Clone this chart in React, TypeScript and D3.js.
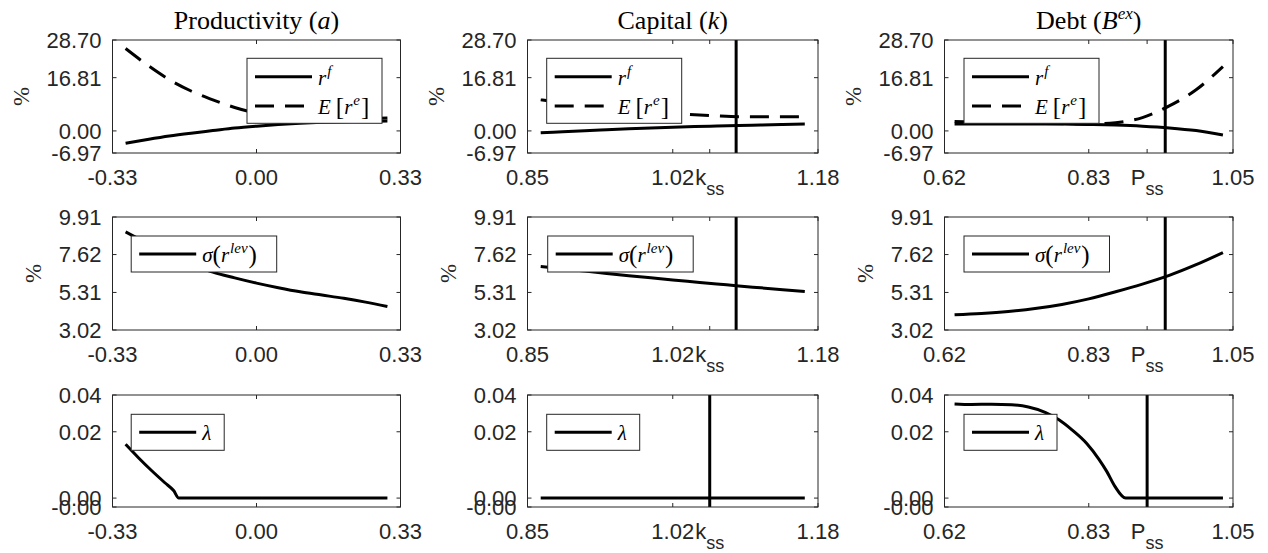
import React from "react";
import * as d3 from "d3";

const W = 1268;
const H = 553;
const SANS = "'Liberation Sans', Arial, Helvetica, sans-serif";
const SERIF = "'Liberation Serif', 'Times New Roman', serif";
const AX = "#262626";

// ---------------- data ----------------
// Productivity (a)
const xProd = [-0.30, -0.25, -0.20, -0.15, -0.10, -0.05, 0.00, 0.05, 0.10, 0.15, 0.20, 0.25, 0.30];
const rfProd = [-3.9, -2.7, -1.6, -0.7, 0.1, 0.9, 1.5, 2.0, 2.4, 2.7, 2.9, 3.0, 3.1];
const erProd = [26.0, 20.8, 16.2, 12.6, 9.8, 7.4, 5.6, 4.6, 4.1, 3.9, 3.8, 3.9, 4.1];
const sigProd = [9.0, 8.3, 7.6, 7.05, 6.55, 6.2, 5.88, 5.6, 5.35, 5.15, 4.95, 4.72, 4.45];
const xLamProd = [-0.30, -0.27, -0.24, -0.21, -0.19, -0.178, 0.30];
const lamProd = [0.0193, 0.0144, 0.0098, 0.0055, 0.0027, 0.0, 0.0];

// Capital (k)
const xCap = [0.865, 0.89, 0.915, 0.94, 0.965, 0.99, 1.015, 1.04, 1.065, 1.09, 1.115, 1.14, 1.165];
const rfCap = [-0.6, -0.25, 0.08, 0.38, 0.66, 0.92, 1.15, 1.36, 1.55, 1.72, 1.88, 2.02, 2.15];
const erCap = [9.8, 8.9, 8.1, 7.4, 6.8, 6.2, 5.6, 5.1, 4.75, 4.5, 4.45, 4.45, 4.45];
const sigCap = [6.89, 6.75, 6.61, 6.47, 6.33, 6.2, 6.07, 5.95, 5.83, 5.7, 5.59, 5.48, 5.37];
const lamCap = [0, 0, 0, 0, 0, 0, 0, 0, 0, 0, 0, 0, 0];
const kLine = 1.087;
const kLineLam = 1.057;

// Debt (B^ex)
const xDebt = [0.635, 0.675, 0.715, 0.755, 0.795, 0.835, 0.875, 0.915, 0.955, 0.995, 1.035];
const rfDebt = [2.2, 2.2, 2.2, 2.2, 2.15, 2.05, 1.85, 1.5, 0.95, 0.1, -1.3];
const erDebt = [3.0, 2.7, 2.5, 2.35, 2.3, 2.2, 2.6, 4.2, 7.9, 13.0, 20.3];
const sigDebt = [3.95, 4.03, 4.15, 4.33, 4.58, 4.92, 5.35, 5.82, 6.35, 7.0, 7.74];
const xLamDebt = [0.635, 0.66, 0.69, 0.72, 0.745, 0.77, 0.79, 0.81, 0.832, 0.85, 0.862, 0.874, 0.89, 1.035];
const lamDebt = [0.0338, 0.0336, 0.0337, 0.0335, 0.0327, 0.0308, 0.0282, 0.0245, 0.0196, 0.0140, 0.0095, 0.0042, 0.0, 0.0];
const pLine = 0.949;
const pLineLam = 0.922;

// axes ticks
const xDomains = [[-0.33, 0.33], [0.85, 1.18], [0.62, 1.05]];
const xTickVals = [[-0.33, 0.0, 0.33], [0.85, 1.015, 1.057, 1.18], [0.62, 0.835, 0.922, 1.05]];
const xTickLabels = [["-0.33", "0.00", "0.33"], ["0.85", "1.02", "k_ss", "1.18"], ["0.62", "0.83", "P_ss", "1.05"]];

const yDomains = [[-6.97, 28.7], [3.02, 9.91], [-0.0032, 0.037]];
const yTickVals = [[-6.97, 0, 16.81, 28.7], [3.02, 5.31, 7.62, 9.91], [-0.0032, 0, 0.0238, 0.037]];
const yTickLabels = [["-6.97", "0.00", "16.81", "28.70"], ["3.02", "5.31", "7.62", "9.91"], ["-0.00", "0.00", "0.02", "0.04"]];

// ---------------- layout ----------------
const COLS = [{ x0: 112.5, x1: 400.5 }, { x0: 527.5, x1: 818 }, { x0: 944.5, x1: 1233 }];
const ROWS = [{ y0: 40, y1: 153 }, { y0: 217, y1: 330 }, { y0: 395, y1: 507 }];
const YLABEL_OFF = [92, 80, 0];

type Series = { x: number[]; y: number[]; dash?: boolean };

function LegendLabel({ kind, x, y }: { kind: string; x: number; y: number }) {
  if (kind === "rf")
    return (
      <text x={x} y={y} fontFamily={SERIF} fontSize={21} fill="#000">
        <tspan fontStyle="italic">r</tspan>
        <tspan fontStyle="italic" fontSize={15} dy={-9} dx={1}>f</tspan>
      </text>
    );
  if (kind === "er")
    return (
      <text x={x} y={y} fontFamily={SERIF} fontSize={21} fill="#000">
        <tspan fontStyle="italic">E</tspan>
        <tspan fontSize={25} dx={5} dy={1}>[</tspan>
        <tspan fontStyle="italic" dy={-1}>r</tspan>
        <tspan fontStyle="italic" fontSize={15} dy={-9} dx={1}>e</tspan>
        <tspan fontSize={25} dy={10} dx={1}>]</tspan>
      </text>
    );
  if (kind === "sig")
    return (
      <text x={x} y={y} fontFamily={SERIF} fontSize={21} fill="#000">
        <tspan fontStyle="italic">σ</tspan>
        <tspan fontSize={25} dy={1}>(</tspan>
        <tspan fontStyle="italic" dy={-1}>r</tspan>
        <tspan fontStyle="italic" fontSize={15} dy={-9} dx={1}>lev</tspan>
        <tspan fontSize={25} dy={10} dx={1}>)</tspan>
      </text>
    );
  return (
    <text x={x} y={y} fontFamily={SERIF} fontSize={21} fontStyle="italic" fill="#000">λ</text>
  );
}

type LegendSpec = { dx: number; dy: number; w: number; h: number; items: { kind: string; dash?: boolean }[] };

function Panel(props: {
  col: number;
  row: number;
  series: Series[];
  vline?: number;
  legend: LegendSpec;
}) {
  const { col, row, series, vline, legend } = props;
  const { x0, x1 } = COLS[col];
  const { y0, y1 } = ROWS[row];
  const xs = d3.scaleLinear().domain(xDomains[col]).range([x0, x1]);
  const ys = d3.scaleLinear().domain(yDomains[row]).range([y1, y0]);
  const line = d3
    .line<[number, number]>()
    .x((d) => xs(d[0]))
    .y((d) => ys(d[1]))
    .curve(d3.curveMonotoneX);
  const TL = 4;
  const lx = x0 + legend.dx;
  const ly = y0 + legend.dy;
  const rowY = legend.items.length === 2 ? [18.4, 47.7] : [18];
  return (
    <g>
      {xTickVals[col].map((v, i) => (
        <g key={"xt" + i}>
          <line x1={xs(v)} x2={xs(v)} y1={y1} y2={y1 - TL} stroke={AX} strokeWidth={1} />
          <line x1={xs(v)} x2={xs(v)} y1={y0} y2={y0 + TL} stroke={AX} strokeWidth={1} />
        </g>
      ))}
      {yTickVals[row].map((v, i) => (
        <g key={"yt" + i}>
          <line x1={x0} x2={x0 + TL} y1={ys(v)} y2={ys(v)} stroke={AX} strokeWidth={1} />
          <line x1={x1} x2={x1 - TL} y1={ys(v)} y2={ys(v)} stroke={AX} strokeWidth={1} />
        </g>
      ))}
      {series.map((s, i) => (
        <path
          key={"s" + i}
          d={line(s.x.map((xv, j) => [xv, s.y[j]] as [number, number])) || ""}
          fill="none"
          stroke="#000"
          strokeWidth={3}
          strokeDasharray={s.dash ? "19 11" : undefined}
        />
      ))}
      {vline !== undefined && (
        <line x1={xs(vline)} x2={xs(vline)} y1={y0} y2={y1} stroke="#000" strokeWidth={3} />
      )}
      <rect x={x0} y={y0} width={x1 - x0} height={y1 - y0} fill="none" stroke={AX} strokeWidth={1} />
      {xTickVals[col].map((v, i) => {
        const lab = xTickLabels[col][i];
        if (lab.includes("_")) {
          const [a, b] = lab.split("_");
          return (
            <text key={"xl" + i} x={xs(v)} y={y1 + 32} textAnchor="middle" fontFamily={SANS} fontSize={22} fill={AX}>
              <tspan>{a}</tspan>
              <tspan fontSize={18} dy={10}>{b}</tspan>
            </text>
          );
        }
        return (
          <text key={"xl" + i} x={xs(v)} y={y1 + 32} textAnchor="middle" fontFamily={SANS} fontSize={22} fill={AX}>
            {lab}
          </text>
        );
      })}
      {yTickVals[row].map((v, i) => (
        <text key={"yl" + i} x={x0 - 11} y={ys(v)} dy="0.36em" textAnchor="end" fontFamily={SANS} fontSize={22} fill={AX}>
          {yTickLabels[row][i]}
        </text>
      ))}
      {YLABEL_OFF[row] > 0 && (
        <text
          transform={`translate(${x0 - YLABEL_OFF[row]},${(y0 + y1) / 2}) rotate(-90)`}
          textAnchor="middle"
          dy="0.35em"
          fontFamily={SERIF}
          fontSize={23}
          fill={AX}
        >
          %
        </text>
      )}
      <rect x={lx} y={ly} width={legend.w} height={legend.h} fill="#fff" stroke={AX} strokeWidth={1} />
      {legend.items.map((it, i) => (
        <g key={"lg" + i}>
          <line
            x1={lx + 8}
            x2={lx + 65}
            y1={ly + rowY[i]}
            y2={ly + rowY[i]}
            stroke="#000"
            strokeWidth={3}
            strokeDasharray={it.dash ? "19 11" : undefined}
          />
          <LegendLabel kind={it.kind} x={lx + 71} y={ly + rowY[i] + 8} />
        </g>
      ))}
    </g>
  );
}

function Title({ col, children }: { col: number; children: React.ReactNode }) {
  const { x0, x1 } = COLS[col];
  return (
    <text x={(x0 + x1) / 2} y={29} textAnchor="middle" fontFamily={SERIF} fontSize={26} fill="#000">
      {children}
    </text>
  );
}

export default function App() {
  const legTop = (dx: number): LegendSpec => ({ dx, dy: 18.3, w: 135, h: 65, items: [{ kind: "rf" }, { kind: "er", dash: true }] });
  const legMid = (dx: number): LegendSpec => ({ dx, dy: 19, w: 145.5, h: 36, items: [{ kind: "sig" }] });
  const legBot = (dx: number): LegendSpec => ({ dx, dy: 19.3, w: 93, h: 36, items: [{ kind: "lam" }] });
  return (
    <svg width={W} height={H} style={{ position: "absolute", left: 0, top: 0, background: "#fff" }}>
      <rect width={W} height={H} fill="#fff" />
      <Title col={0}>
        Productivity (<tspan fontStyle="italic">a</tspan>)
      </Title>
      <Title col={1}>
        Capital (<tspan fontStyle="italic">k</tspan>)
      </Title>
      <Title col={2}>
        Debt (<tspan fontStyle="italic">B</tspan>
        <tspan fontStyle="italic" fontSize={17} dy={-10}>ex</tspan>
        <tspan dy={10}>)</tspan>
      </Title>

      <Panel col={0} row={0} series={[{ x: xProd, y: rfProd }, { x: xProd, y: erProd, dash: true }]} legend={legTop(134.5)} />
      <Panel col={1} row={0} series={[{ x: xCap, y: rfCap }, { x: xCap, y: erCap, dash: true }]} vline={kLine} legend={legTop(19.2)} />
      <Panel col={2} row={0} series={[{ x: xDebt, y: rfDebt }, { x: xDebt, y: erDebt, dash: true }]} vline={pLine} legend={legTop(19.5)} />

      <Panel col={0} row={1} series={[{ x: xProd, y: sigProd }]} legend={legMid(18.7)} />
      <Panel col={1} row={1} series={[{ x: xCap, y: sigCap }]} vline={kLine} legend={legMid(20.2)} />
      <Panel col={2} row={1} series={[{ x: xDebt, y: sigDebt }]} vline={pLine} legend={legMid(19.5)} />

      <Panel col={0} row={2} series={[{ x: xLamProd, y: lamProd }]} legend={legBot(18.7)} />
      <Panel col={1} row={2} series={[{ x: xCap, y: lamCap }]} vline={kLineLam} legend={legBot(19.2)} />
      <Panel col={2} row={2} series={[{ x: xLamDebt, y: lamDebt }]} vline={pLineLam} legend={legBot(19.5)} />
    </svg>
  );
}
